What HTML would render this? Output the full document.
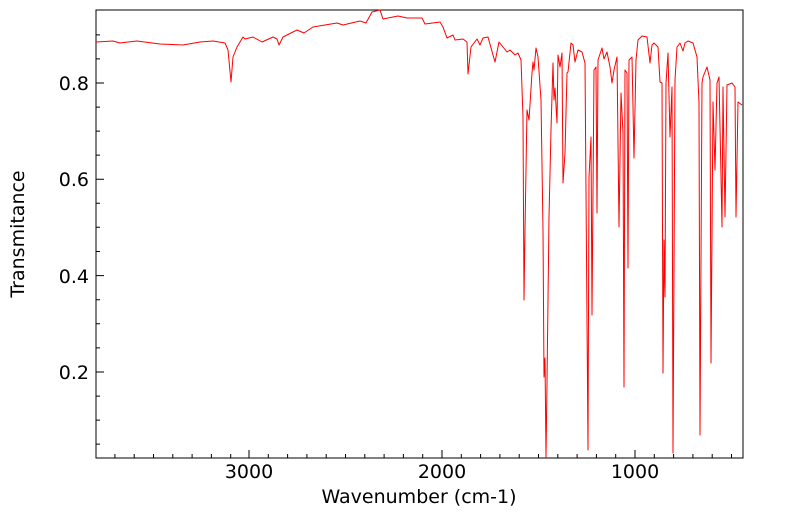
<!DOCTYPE html><html><head><style>body{margin:0;background:#fff}</style></head><body>
<svg width="799" height="516" xmlns="http://www.w3.org/2000/svg" font-family="'DejaVu Sans','Liberation Sans',sans-serif">
<rect x="96" y="10" width="647" height="448" fill="none" stroke="#000" stroke-width="1"/>
<g font-size="19" text-anchor="end" fill="#000">
<text x="89" y="90">0.8</text><text x="89" y="186">0.6</text><text x="89" y="283">0.4</text><text x="89" y="379">0.2</text>
</g>
<g font-size="19" text-anchor="middle">
<text x="249" y="478">3000</text><text x="442" y="478">2000</text><text x="635" y="478">1000</text>
<text x="419" y="503">Wavenumber (cm-1)</text>
<text transform="translate(24,234) rotate(-90)">Transmitance</text>
</g>
<g stroke="#000" stroke-width="1">
<path d="M96 83h8M96 179.2h8M96 275.6h8M96 372h8M96 34.9h4M96 58.9h4M96 107.1h4M96 131.1h4M96 155.1h4M96 203.3h4M96 227.3h4M96 251.5h4M96 299.7h4M96 323.7h4M96 347.9h4M96 396.1h4M96 420.1h4M96 444.1h4"/>
<path d="M249 458v-8M442 458v-8M635 458v-8"/>
<path d="M114.9 458v-4M134.2 458v-4M153.5 458v-4M172.8 458v-4M192.1 458v-4M211.4 458v-4M230.7 458v-4M268.3 458v-4M287.6 458v-4M306.9 458v-4M326.2 458v-4M345.5 458v-4M364.8 458v-4M384.1 458v-4M403.4 458v-4M422.7 458v-4M461.3 458v-4M480.6 458v-4M499.9 458v-4M519.2 458v-4M538.5 458v-4M557.8 458v-4M577.1 458v-4M596.4 458v-4M615.7 458v-4M654.3 458v-4M673.6 458v-4M692.9 458v-4M712.2 458v-4M731.5 458v-4"/>
</g>
<polyline fill="none" stroke="#f00" stroke-width="1" stroke-linejoin="round" points="96,42 113,41 120,43 137,41 160,44 183,45 200,42 213,41 225,43 228,50 231,82 233,57 237,47 243,37 245,39 253,37 262,42 273,37 277,39 279,45 283,37 297,30 304,33 313,27 337,23 343,25 360,21 366,23 372,12 380,10 383,19 398,16 407,18 422,18 425,24 440,22 443,27 447,38 453,35 455,40 463,39 467,42 468,74 471,47 477,39 480,45 483,38 488,37 493,55 495,62 499,42 503,47 507,52 510,50 515,55 518,53 521,60 523,117 524,300 525,230 527,110 529,120 532,73 533,62 534,70 536,48 538,57 541,100 543,230 544,377 545,358 546,457 547,383 549,217 551,130 553,63 554,100 555,88 557,123 558,55 560,67 562,53 563,183 565,153 567,73 568,72 571,43 573,45 575,62 578,50 582,52 585,63 588,450 589,177 591,137 592,315 594,70 596,67 597,213 598,60 602,48 604,59 607,52 610,67 612,83 614,70 617,57 619,227 621,93 623,133 624,387 625,70 627,73 628,268 629,60 632,57 634,158 636,60 638,40 642,36 647,37 650,63 652,45 654,43 658,47 660,82 662,83 663,373 664,240 665,297 666,83 668,53 670,137 672,87 673,453 675,80 677,47 680,43 683,51 685,43 688,41 693,43 697,57 699,103 700,435 702,83 703,77 707,67 710,80 711,363 713,102 715,170 717,83 719,77 722,227 723,87 725,217 727,85 732,83 735,87 736,217 738,102 742,105"/>
</svg>
</body></html>
